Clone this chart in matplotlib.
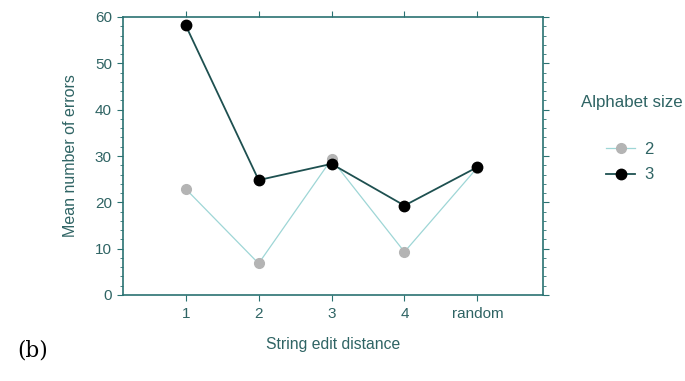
import matplotlib
matplotlib.use('Agg')
import matplotlib.pyplot as plt
from matplotlib.ticker import MultipleLocator

# data
categories = ['1', '2', '3', '4', 'random']
size2 = [22.9, 6.8, 29.3, 9.3, 27.5]
size3 = [58.2, 24.8, 28.3, 19.3, 27.6]

TXT = '#2f6464'
AX = '#2a7272'

plt.rcParams['font.family'] = ['Liberation Sans', 'DejaVu Sans']

fig = plt.figure(figsize=(6.85, 3.81), dpi=100)
ax = fig.add_axes([123 / 685, 1 - 295 / 381, 420 / 685, 278 / 381])

x = range(1, len(categories) + 1)
ax.plot(x, size2, '-o', color='#9ed6d6', lw=0.9, ms=7,
        mfc='#b4b4b4', mec='#b4b4b4', label='2')
ax.plot(x, size3, '-o', color='#1e5050', lw=1.3, ms=7.5,
        mfc='black', mec='black', label='3')

ax.set_xlim(0.14, 5.9)
ax.set_ylim(0, 60)
ax.set_xticks(list(x))
ax.set_xticklabels(categories)
ax.yaxis.set_major_locator(MultipleLocator(10))
ax.yaxis.set_minor_locator(MultipleLocator(2))
ax.tick_params(which='both', direction='out', color=AX, labelcolor=TXT,
               labelsize=11, top=True, right=True)
ax.tick_params(which='major', length=4)
ax.tick_params(which='minor', length=2.5)
ax.tick_params(axis='x', pad=5)
ax.tick_params(axis='y', pad=4)
for s in ax.spines.values():
    s.set_color(AX)
    s.set_linewidth(1.2)

ax.set_xlabel('String edit distance', color=TXT, fontsize=11.3, labelpad=11)
ax.set_ylabel('Mean number of errors', color=TXT, fontsize=11.5, labelpad=12)

fig.text(581 / 685, 1 - 102 / 381, 'Alphabet size', color=TXT,
         fontsize=12.2, va='center', ha='left')
leg = fig.legend(loc='center left', bbox_to_anchor=(598 / 685, 1 - 162 / 381),
                 frameon=False, fontsize=12, handlelength=1.7,
                 labelspacing=0.65, handletextpad=0.55, borderpad=0)
for t in leg.get_texts():
    t.set_color(TXT)

fig.text(17 / 685, 1 - 351 / 381, '(b)', family='DejaVu Serif', fontsize=15.5,
         va='center', ha='left')

fig.savefig('out.png', dpi=100)
